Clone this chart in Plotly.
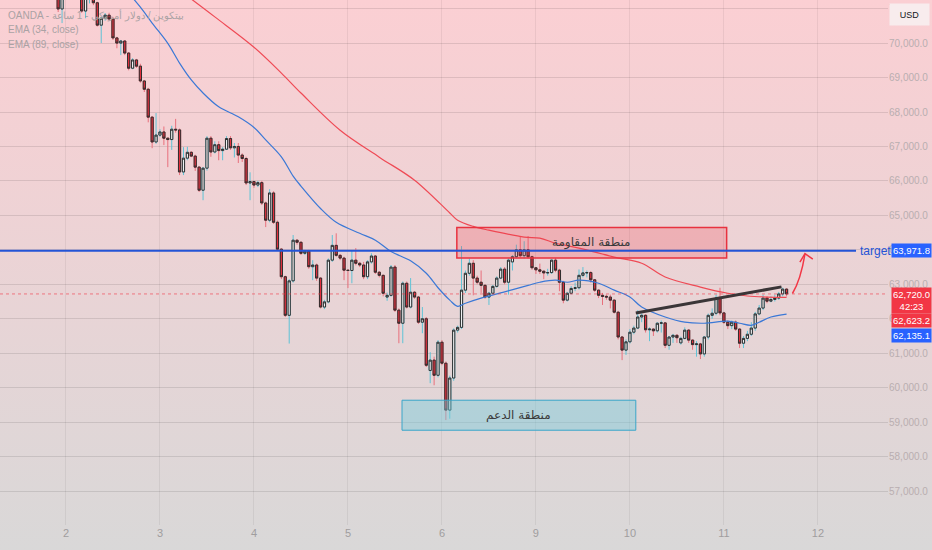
import base64
import plotly.graph_objects as go

# hourly candles, index 0 = day "2" 00:00 (weekend removed)
FIRST_BAR = -3

OPENS = [
    71700, 71500, 70990, 71400, 71600, 71800, 71700, 71450, 70930, 71350,
    71450, 71170, 70520, 70720, 70810, 70700, 70150, 70000, 70060, 69710,
    69270, 69510, 69330, 68900, 68660, 67850, 67130, 67330, 67420, 67240,
    67200, 67500, 67480, 66260, 66660, 66830, 66720, 66400, 65730, 66370,
    67240, 66840, 67050, 66880, 66920, 67230, 66960, 67000, 66750, 66650,
    65940, 65980, 65880, 65950, 65360, 64860, 65650, 64800, 64020, 63220,
    62100, 63100, 64280, 64220, 63900, 63960, 63510, 63560, 63180, 62340,
    62490, 63700, 64130, 63840, 63760, 63410, 63400, 63700, 63610, 63560,
    63220, 63650, 63820, 63350, 63260, 62630, 62680, 63500, 62250, 61870,
    63030, 62340, 62770, 62630, 61900, 62000, 60500, 60800, 60360, 61320,
    60710, 59350, 60280, 61670, 61750, 62830, 63320, 63610, 63180, 63060,
    62970, 62630, 62740, 62940, 63180, 63440, 63060, 63650, 63800, 64000,
    63830, 64000, 63800, 63480, 63420, 63380, 63330, 63340, 63700, 63410,
    63060, 62540, 62740, 62880, 62900, 63260, 63330, 63340, 63130, 62830,
    62680, 62650, 62630, 62540, 62190, 61470, 61090, 61330, 61610, 61730,
    62050, 62100, 61680, 61700, 61650, 61870, 61880, 61230, 61470, 61520,
    61300, 61430, 61670, 61380, 61250, 61270, 60980, 61470, 62100, 62160,
    62600, 62170, 61900, 61800, 61900, 61700, 61290, 61430, 61550, 61730,
    62140, 62310, 62600, 62510, 62560, 62600, 62720, 62860,
]
HIGHS = [
    71800, 71550, 71500, 71700, 71900, 71900, 71750, 71500, 71400, 71550,
    71500, 71200, 70760, 70870, 70880, 70760, 70180, 70090, 70080, 69740,
    69560, 69540, 69400, 68930, 68700, 67880, 67970, 67500, 67580, 67260,
    67600, 67800, 67520, 66980, 66990, 66860, 66760, 66430, 66400, 67300,
    67300, 67150, 67150, 66980, 67300, 67300, 67100, 67100, 66800, 66700,
    66250, 66000, 66000, 66000, 65400, 65760, 65700, 64850, 64050, 63250,
    63150, 64430, 64300, 64240, 64000, 64000, 63700, 63600, 63200, 62550,
    63750, 64430, 64480, 63880, 63800, 63430, 63990, 64050, 63650, 63650,
    63700, 63900, 63850, 63380, 63280, 62760, 63560, 63560, 62300, 63080,
    63080, 63180, 62800, 62660, 62340, 62050, 61030, 60900, 61380, 61380,
    60760, 60350, 61720, 61800, 64110, 63400, 63750, 63700, 63250, 63400,
    63000, 62780, 62980, 63230, 63500, 63500, 63750, 63850, 64150, 64380,
    64250, 64400, 63830, 63500, 63600, 63400, 63450, 63720, 63760, 63450,
    63100, 62780, 62950, 63050, 63430, 63500, 63400, 63380, 63150, 62850,
    62750, 62700, 62700, 62560, 62230, 61500, 61400, 61700, 61800, 62250,
    62150, 62130, 61750, 61720, 61900, 61950, 61900, 61500, 61560, 61550,
    61480, 61750, 61700, 61400, 61350, 61300, 61500, 62150, 62300, 62700,
    62900, 62200, 61950, 61950, 61950, 61720, 61500, 61650, 61900, 62200,
    62400, 62700, 62650, 62650, 62700, 62780, 62900, 62880,
]
LOWS = [
    71400, 70900, 70580, 71300, 71500, 71550, 71350, 70880, 70720, 71150,
    71100, 70480, 70000, 70650, 70650, 70090, 69850, 69650, 69650, 69210,
    69240, 69280, 68850, 68580, 67700, 66950, 67080, 67280, 67040, 66400,
    66900, 67400, 66170, 66170, 66600, 66690, 66290, 65680, 65440, 66300,
    66700, 66800, 66600, 66600, 66900, 66900, 66680, 66520, 66550, 65880,
    65440, 65800, 65820, 65300, 64660, 64800, 64750, 63970, 63150, 62050,
    61280, 63050, 64150, 63850, 63850, 63450, 63120, 63100, 62300, 62280,
    62450, 63650, 63800, 63700, 63120, 62890, 63030, 63550, 63500, 63150,
    63150, 63600, 63300, 63200, 62650, 62520, 62640, 62200, 61290, 61290,
    62300, 62300, 62580, 61850, 61580, 60600, 60130, 60070, 60300, 60650,
    59060, 59100, 60200, 61600, 61700, 62750, 63250, 62680, 63000, 62750,
    62580, 62400, 62700, 62900, 63150, 63000, 62700, 63400, 63750, 63780,
    63750, 63750, 63420, 63300, 63300, 63150, 63250, 63300, 63350, 62800,
    62450, 62500, 62700, 62800, 62850, 63200, 63200, 63050, 62780, 62600,
    62400, 62550, 62300, 62150, 61400, 60800, 60950, 61280, 61550, 61700,
    61900, 61600, 61350, 61500, 61600, 61600, 61150, 61100, 61300, 61300,
    61250, 61400, 61300, 61100, 60900, 60830, 60900, 61400, 62000, 62100,
    62100, 61850, 61700, 61700, 61650, 61150, 61150, 61350, 61500, 61650,
    62100, 62250, 62450, 62480, 62500, 62550, 62650, 62650,
]
CLOSES = [
    71500, 70990, 71400, 71600, 71800, 71700, 71450, 70930, 71350, 71450,
    71170, 70520, 70720, 70810, 70700, 70150, 70000, 70060, 69710, 69270,
    69510, 69330, 68900, 68660, 67850, 67130, 67330, 67420, 67240, 67200,
    67500, 67480, 66260, 66660, 66830, 66720, 66400, 65730, 66370, 67240,
    66840, 67050, 66880, 66920, 67230, 66960, 67000, 66750, 66650, 65940,
    65980, 65880, 65950, 65360, 64860, 65650, 64800, 64020, 63220, 62100,
    63100, 64280, 64220, 63900, 63960, 63510, 63560, 63180, 62340, 62490,
    63700, 64130, 63840, 63760, 63410, 63400, 63700, 63610, 63560, 63220,
    63650, 63820, 63350, 63260, 62740, 62680, 63500, 62250, 61870, 63030,
    62340, 62770, 62630, 61900, 62000, 60650, 60800, 60360, 61320, 60710,
    59350, 60280, 61670, 61750, 62830, 63320, 63610, 63180, 63060, 62970,
    62630, 62740, 62940, 63180, 63440, 63060, 63700, 63800, 64000, 63830,
    64000, 63800, 63480, 63420, 63380, 63330, 63340, 63700, 63410, 63060,
    62540, 62740, 62880, 62900, 63260, 63330, 63340, 63130, 62830, 62680,
    62650, 62630, 62540, 62190, 61470, 61090, 61330, 61610, 61730, 62050,
    62100, 61680, 61700, 61650, 61870, 61880, 61230, 61470, 61520, 61450,
    61430, 61670, 61380, 61250, 61270, 60980, 61470, 62100, 62160, 62600,
    62170, 61900, 61800, 61900, 61700, 61290, 61430, 61550, 61730, 62140,
    62310, 62600, 62510, 62560, 62600, 62720, 62860, 62720,
]

DAY_TICKS = [0, 24, 48, 72, 96, 120, 144, 168, 192]
DAY_LABELS = ["2", "3", "4", "5", "6", "9", "10", "11", "12"]

EMA34_X = [16, 19, 22, 26, 29, 32, 35, 39, 44, 48, 51, 55, 58, 60, 65, 69, 75, 79,
           83, 88, 92, 95, 98, 100, 102, 106, 112, 118, 121, 125, 128, 131, 136,
           140, 144, 147, 153, 158, 163, 169, 172, 175, 177, 180, 184]
EMA34_Y = [71450, 71040, 70580, 69990, 69420, 68930, 68550, 68150, 67860, 67550,
           67190, 66700, 66140, 65850, 65200, 64800, 64480, 64280, 63950, 63680,
           63320, 62900, 62540, 62360, 62450, 62600, 62780, 62970, 63060, 63120,
           63060, 63120, 63030, 62830, 62630, 62340, 62050, 61900, 61870, 61930,
           61870, 61810, 61900, 62050, 62135]
EMA89_X = [30, 38, 48, 55, 60, 70, 80, 89, 98, 100, 104, 108, 117, 121, 125, 131,
           140, 147, 153, 162, 169, 174, 179, 184]
EMA89_Y = [71450, 70760, 69880, 69130, 68550, 67470, 66690, 66020, 65070, 64860,
           64680, 64570, 64370, 64340, 64190, 64050, 63790, 63610, 63210, 62920,
           62740, 62660, 62630, 62623]

TARGET = 63971.8
LAST_PRICE = 62720.0
EMA89_LAST = 62623.2
EMA34_LAST = 62135.1

X_RANGE = [-16.85, 209.9]
Y_RANGE = [56015, 71250]

RESIST_BOX = dict(x0=99.8, x1=168.7, y0=63760, y1=64650)
SUPPORT_BOX = dict(x0=85.8, x1=145.5, y0=58765, y1=59636)
TREND = dict(x0=145.5, y0=62170, x1=182.7, y1=62925)

UP_FILL, DOWN_FILL = "#eef0f2", "#e3303e"
UP_WICK, DOWN_WICK = "#5ec3d6", "#e8707c"
BORDER = "#2e2e2e"

xs = list(range(FIRST_BAR, FIRST_BAR + len(CLOSES)))
body_hi = [max(o, c) for o, c in zip(OPENS, CLOSES)]
body_lo = [min(o, c) for o, c in zip(OPENS, CLOSES)]

fig = go.Figure()

# wicks
fig.add_trace(go.Candlestick(
    x=xs, open=OPENS, high=HIGHS, low=LOWS, close=CLOSES,
    increasing=dict(line=dict(color=UP_WICK, width=1), fillcolor=UP_WICK),
    decreasing=dict(line=dict(color=DOWN_WICK, width=1), fillcolor=DOWN_WICK),
    hoverinfo="skip", showlegend=False))
# bodies with dark outline
fig.add_trace(go.Candlestick(
    x=xs, open=OPENS, high=body_hi, low=body_lo, close=CLOSES,
    increasing=dict(line=dict(color=BORDER, width=1), fillcolor=UP_FILL),
    decreasing=dict(line=dict(color=BORDER, width=1), fillcolor=DOWN_FILL),
    hoverinfo="skip", showlegend=False))

fig.add_trace(go.Scatter(x=EMA89_X, y=EMA89_Y, mode="lines", line_shape="spline",
                         line=dict(color="#ef4a55", width=1.2), hoverinfo="skip", showlegend=False))
fig.add_trace(go.Scatter(x=EMA34_X, y=EMA34_Y, mode="lines", line_shape="spline",
                         line=dict(color="#3b78d6", width=1.2), hoverinfo="skip", showlegend=False))

shapes = [
    dict(type="line", xref="paper", x0=0, x1=1, y0=LAST_PRICE, y1=LAST_PRICE,
         line=dict(color="rgba(242,54,69,0.6)", width=1, dash="dot"), layer="above"),
    dict(type="rect", xref="x", yref="y", **RESIST_BOX, fillcolor="rgba(242,54,69,0.22)",
         line=dict(color="#e8323f", width=1.5), layer="above"),
    dict(type="rect", xref="x", yref="y", **SUPPORT_BOX, fillcolor="rgba(120,205,220,0.45)",
         line=dict(color="#3aa6c9", width=1), layer="above"),
    dict(type="line", xref="paper", x0=0, x1=0.964, y0=TARGET, y1=TARGET,
         line=dict(color="#2454d6", width=2), layer="above"),
    dict(type="line", xref="x", yref="y", **TREND,
         line=dict(color="#3a3537", width=3), layer="above"),
    dict(type="path", xref="x", yref="y",
         path="M 185.5,62733 Q 187.6,63120 188.7,63880",
         line=dict(color="#f23645", width=1.5), layer="above"),
    dict(type="path", xref="x", yref="y",
         path="M 187.4,63642 L 188.7,63889 L 190.7,63729",
         line=dict(color="#f23645", width=1.5), layer="above"),
]

label_font = dict(family="Liberation Sans", size=9.5, color="white")
legend_font = dict(family="Liberation Sans", size=10, color="#aaa2a4")
annotations = [
    dict(text="منطقة المقاومة", x=(RESIST_BOX["x0"] + RESIST_BOX["x1"]) / 2,
         y=(RESIST_BOX["y0"] + RESIST_BOX["y1"]) / 2, xref="x", yref="y", showarrow=False,
         xanchor="center", yanchor="middle",
         font=dict(family="DejaVu Sans", size=12, color="#3a3a3a")),
    dict(text="منطقة الدعم", x=(SUPPORT_BOX["x0"] + SUPPORT_BOX["x1"]) / 2,
         y=(SUPPORT_BOX["y0"] + SUPPORT_BOX["y1"]) / 2, xref="x", yref="y", showarrow=False,
         xanchor="center", yanchor="middle",
         font=dict(family="DejaVu Sans", size=12, color="#3a3a3a")),
    dict(text="target", x=202.2, y=TARGET, xref="x", yref="y", xanchor="left",
         yanchor="middle", showarrow=False,
         font=dict(family="Liberation Sans", size=12, color="#2454d6")),
    # price scale labels
    dict(text=f"{TARGET:,.1f}", x=1.003, y=TARGET, xref="paper", yref="y",
         xanchor="left", yanchor="middle", showarrow=False, bgcolor="#2962ff",
         width=37, height=11, borderpad=1, font=label_font),
    dict(text=f"{LAST_PRICE:,.1f}<br>42:23", x=1.003, y=62524, xref="paper", yref="y",
         xanchor="left", yanchor="middle", showarrow=False, bgcolor="#f23645",
         width=37, height=23, borderpad=1, font=label_font),
    dict(text=f"{EMA89_LAST:,.1f}", x=1.003, y=61944, xref="paper", yref="y",
         xanchor="left", yanchor="middle", showarrow=False, bgcolor="#f23645",
         width=37, height=11, borderpad=1, font=label_font),
    dict(text=f"{EMA34_LAST:,.1f}", x=1.003, y=61523, xref="paper", yref="y",
         xanchor="left", yanchor="middle", showarrow=False, bgcolor="#2962ff",
         width=37, height=11, borderpad=1, font=label_font),
    dict(text="USD", x=1.0247, y=0.972, xref="paper", yref="paper", showarrow=False,
         xanchor="center", yanchor="middle", bgcolor="#f8eced", width=37, height=19,
         font=dict(family="Liberation Sans", size=9, color="#131722")),
    # top-left legend
    dict(text="OANDA - بيتكوين / دولار أمريكي - 1 ساعة", x=0.007, y=0.971,
         xref="paper", yref="paper", xanchor="left", yanchor="middle",
         showarrow=False, font=legend_font),
    dict(text="EMA (34, close)", x=0.007, y=0.943, xref="paper", yref="paper",
         xanchor="left", yanchor="middle", showarrow=False, font=legend_font),
    dict(text="EMA (89, close)", x=0.007, y=0.916, xref="paper", yref="paper",
         xanchor="left", yanchor="middle", showarrow=False, font=legend_font),
]

# pink-to-grey gradient behind everything
svg = ('<svg xmlns="http://www.w3.org/2000/svg" width="10" height="100" '
       'preserveAspectRatio="none"><defs><linearGradient id="g" x1="0" y1="0" x2="0" y2="1">'
       '<stop offset="0" stop-color="#fbcfd3"/><stop offset="1" stop-color="#d9d8d8"/>'
       '</linearGradient></defs><rect width="10" height="100" fill="url(#g)"/></svg>')
bg_src = "data:image/svg+xml;base64," + base64.b64encode(svg.encode()).decode()

fig.update_layout(
    width=932, height=550, autosize=False,
    margin=dict(l=0, r=44, t=0, b=25),
    paper_bgcolor="#d9d8d8", plot_bgcolor="rgba(0,0,0,0)",
    boxgap=0.2,
    shapes=shapes, annotations=annotations,
    images=[dict(source=bg_src, xref="paper", yref="paper", x=0, y=1,
                 sizex=932 / 888, sizey=550 / 525, xanchor="left", yanchor="top",
                 sizing="stretch", layer="below")],
    xaxis=dict(range=X_RANGE, tickvals=DAY_TICKS, ticktext=DAY_LABELS,
               showgrid=True, gridcolor="rgba(0,0,0,0.06)", zeroline=False,
               rangeslider=dict(visible=False), ticks="",
               tickfont=dict(family="Liberation Sans", size=11, color="#a09d9e")),
    yaxis=dict(range=Y_RANGE, side="right", dtick=1000, tickformat=",.1f",
               showgrid=True, gridcolor="rgba(0,0,0,0.1)", zeroline=False, ticks="",
               tickfont=dict(family="Liberation Sans", size=10, color="#b9aeb0")),
    hovermode=False,
)

fig.write_html("out.html", config={"displayModeBar": False},
               post_script="document.body.style.margin='0';")
